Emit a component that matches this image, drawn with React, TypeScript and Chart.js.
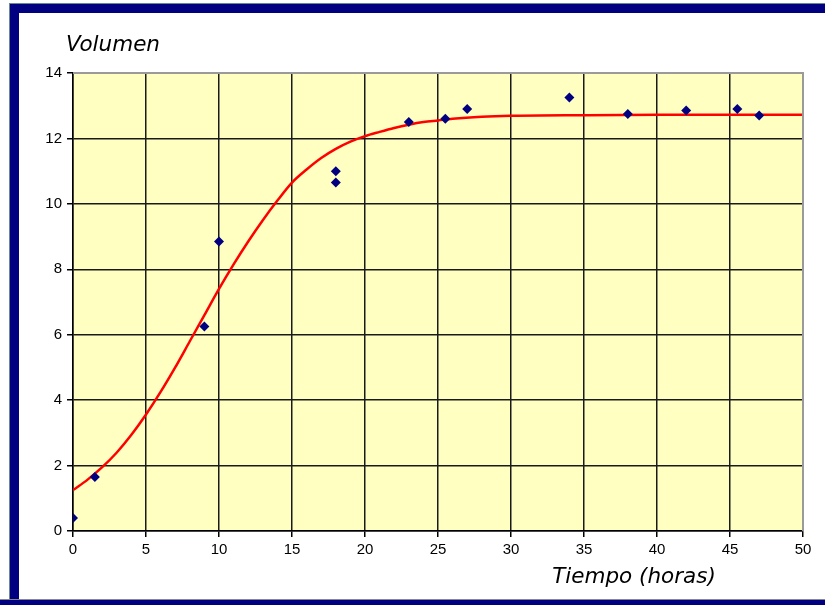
import React, { useEffect, useRef } from "react";
import { Chart, registerables } from "chart.js";

Chart.register(...registerables);

// Observed data (Tiempo en horas, Volumen)
const obsX = [0, 1.5, 9, 10, 18, 18, 23, 25.5, 27, 34, 38, 42, 45.5, 47];
const obsY = [0.4, 1.65, 6.25, 8.85, 11.0, 10.65, 12.5, 12.6, 12.9, 13.25, 12.75, 12.85, 12.9, 12.7];

// Fitted curve
const fitX = [0, 1, 2, 3, 4, 5, 6, 7, 8, 9, 10, 11, 12, 13, 14, 15, 16, 17, 18, 19, 20, 21, 22, 23, 24, 25, 26, 28, 30, 35, 40, 45, 50];
const fitY = [1.25, 1.57, 1.95, 2.4, 2.94, 3.56, 4.25, 5.0, 5.8, 6.6, 7.4, 8.15, 8.85, 9.5, 10.1, 10.65, 11.05, 11.4, 11.68, 11.9, 12.07, 12.2, 12.32, 12.42, 12.5, 12.55, 12.6, 12.66, 12.69, 12.71, 12.72, 12.72, 12.72];

const yTitle = "Volumen";
const xTitle = "Tiempo (horas)";

export default function App() {
  const ref = useRef<HTMLCanvasElement | null>(null);

  useEffect(() => {
    if (!ref.current) return;
    const font = "'Liberation Sans', Arial, sans-serif";
    const titleFont = "'DejaVu Sans', Verdana, sans-serif";
    const plotBg = {
      id: "plotBg",
      beforeDraw(chart: any) {
        const { ctx, chartArea: a } = chart;
        ctx.save();
        ctx.fillStyle = "#FFFFC2";
        ctx.fillRect(a.left, a.top, a.right - a.left, a.bottom - a.top);
        ctx.restore();
      },
      afterDatasetsDraw(chart: any) {
        const { ctx, chartArea: a } = chart;
        ctx.save();
        ctx.strokeStyle = "#9a9a9a";
        ctx.lineWidth = 2;
        ctx.beginPath();
        ctx.moveTo(a.left, a.top);
        ctx.lineTo(a.right, a.top);
        ctx.lineTo(a.right, a.bottom);
        ctx.stroke();
        ctx.fillStyle = "#000";
        ctx.font = `oblique 21.5px ${titleFont}`;
        ctx.textBaseline = "middle";
        ctx.textAlign = "left";
        ctx.fillText(yTitle, a.left - 7, a.top - 28);
        ctx.textAlign = "center";
        ctx.fillText(xTitle, a.left + 561, a.bottom + 46);
        ctx.restore();
      },
    };

    const chart = new Chart(ref.current, {
      type: "scatter",
      data: {
        datasets: [
          {
            type: "line",
            label: "fit",
            data: fitX.map((x, i) => ({ x, y: fitY[i] })),
            borderColor: "#FF0000",
            borderWidth: 2.5,
            pointRadius: 0,
            cubicInterpolationMode: "monotone",
            fill: false,
            order: 2,
          } as any,
          {
            label: "obs",
            data: obsX.map((x, i) => ({ x, y: obsY[i] })),
            backgroundColor: "#000080",
            borderColor: "#000080",
            pointStyle: "rectRot",
            pointRadius: 5,
            borderWidth: 0,
            order: 1,
          },
        ],
      },
      options: {
        animation: false,
        responsive: false,
        layout: { padding: { left: 0, top: 73, right: 22, bottom: 0 } },
        plugins: { legend: { display: false }, tooltip: { enabled: false } },
        scales: {
          x: {
            type: "linear",
            min: 0,
            max: 50,
            ticks: { stepSize: 5, color: "#000", font: { family: font, size: 15 }, padding: 4 },
            grid: { color: "#1a1a1a", lineWidth: 1.5, tickLength: 6, tickColor: "#000" },
            border: { color: "#000", width: 1.5 },
            afterFit(s: any) {
              s.height = 74;
            },
          },
          y: {
            min: 0,
            max: 14,
            ticks: { stepSize: 2, color: "#000", font: { family: font, size: 15 }, padding: 5 },
            grid: { color: "#1a1a1a", lineWidth: 1.5, tickLength: 6, tickColor: "#000" },
            border: { color: "#000", width: 1.5 },
            afterFit(s: any) {
              s.width = 73;
            },
          },
        },
      },
      plugins: [plotBg],
    });
    return () => chart.destroy();
  }, []);

  return (
    <div style={{ position: "fixed", left: 0, top: 0, width: 825, height: 605, overflow: "hidden", background: "#fff" }}>
      <div
        style={{
          position: "absolute",
          left: 9,
          top: 3,
          width: 900,
          height: 700,
          border: "1px solid #6a8a8a",
          boxSizing: "border-box",
        }}
      >
        <div
          style={{
            position: "absolute",
            left: 0,
            top: 0,
            right: 0,
            bottom: 0,
            borderLeft: "9px solid #000080",
            borderTop: "9px solid #000080",
          }}
        />
      </div>
      <div
        style={{ position: "absolute", left: 0, top: 599, width: 825, height: 6, background: "#000080", borderTop: "1px solid #888" }}
      />
      <canvas ref={ref} width={825} height={605} style={{ position: "absolute", left: 0, top: 0 }} />
    </div>
  );
}
